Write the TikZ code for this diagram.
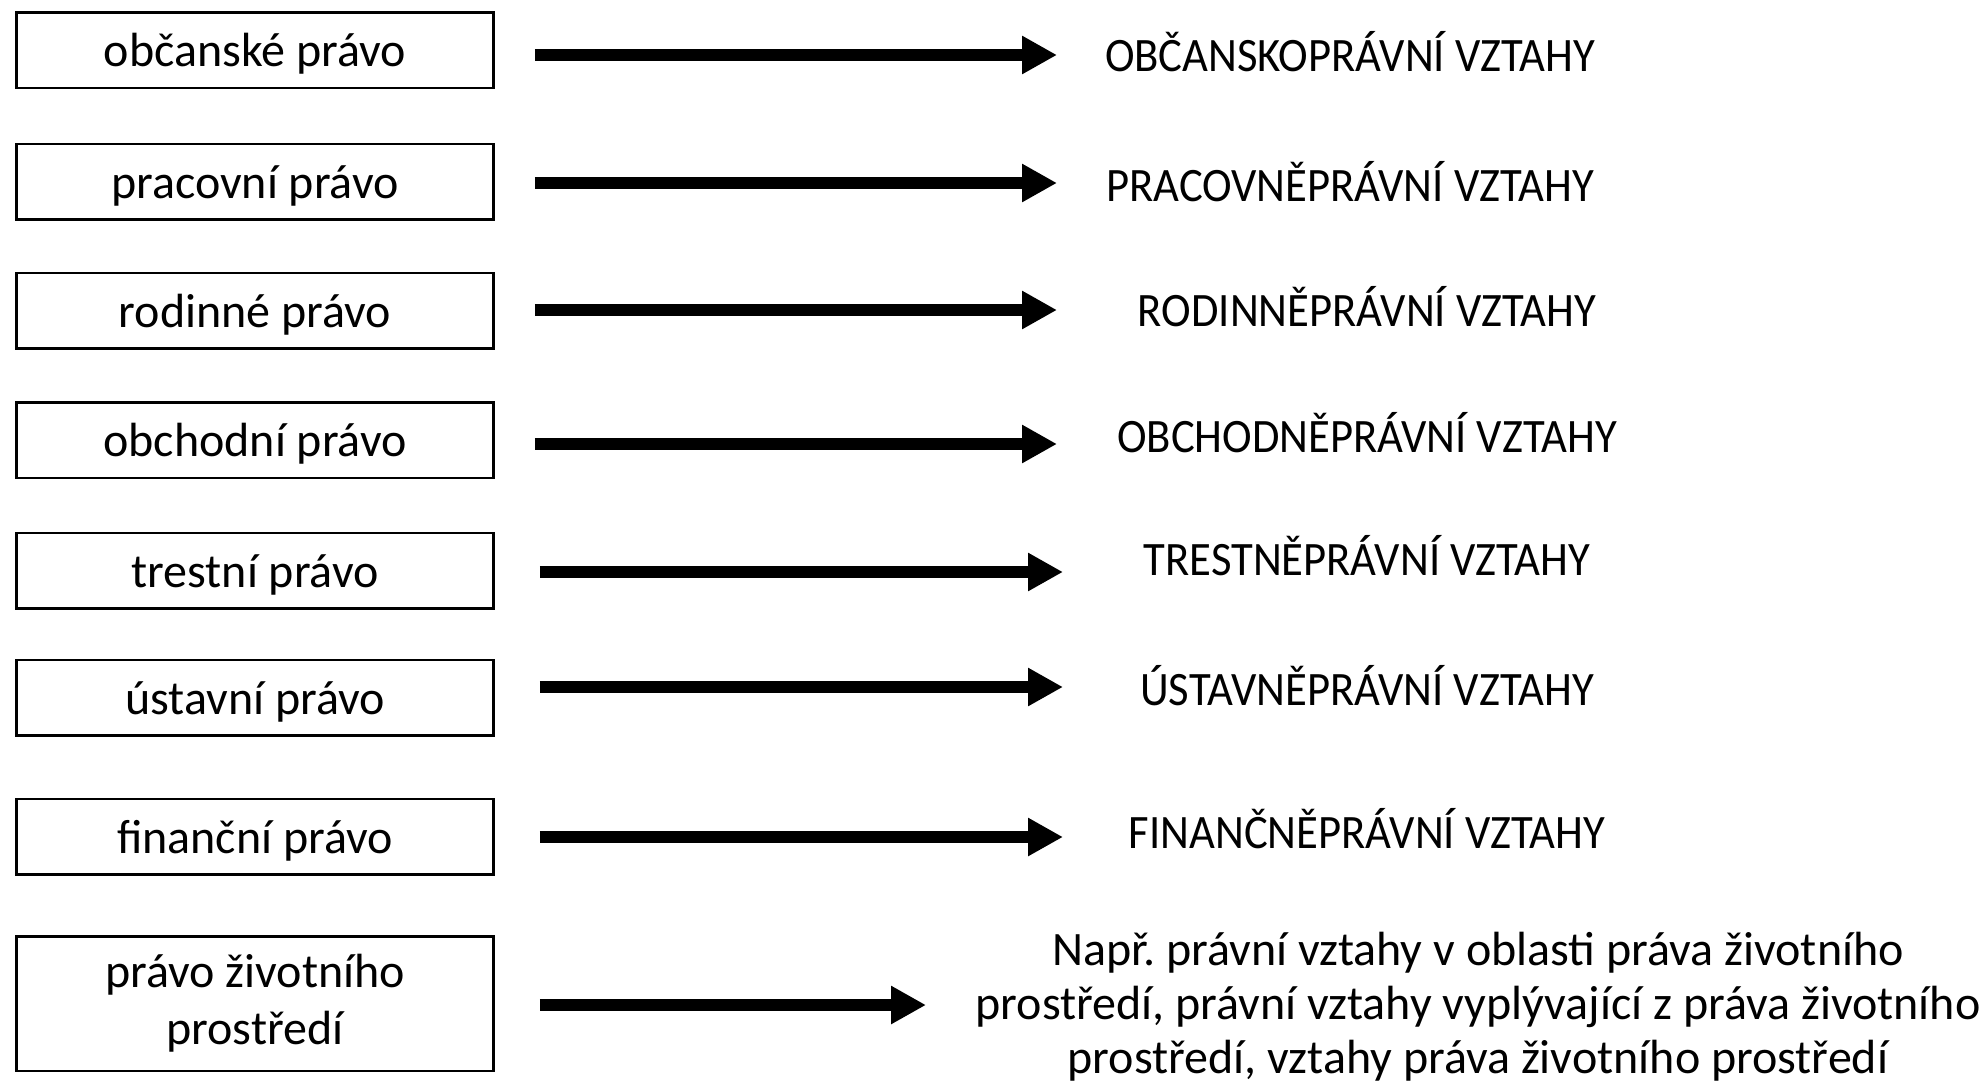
\documentclass[tikz,border=0pt]{standalone}
\usepackage{fontspec}
\setmainfont{Carlito}
\newfontfamily\uzky[FakeStretch=0.93]{Carlito}
\usetikzlibrary{arrows.meta}
\frenchspacing

\begin{document}
\begin{tikzpicture}[x=1pt,y=-1pt,
    font=\fontsize{48}{57}\selectfont,
    pravo/.style={draw,line width=2.5pt,minimum width=477pt,minimum height=75.5pt,inner sep=0pt,align=center,text height=43pt,text depth=10pt},
    vztah/.style={inner sep=0pt,font=\uzky\fontsize{48}{54}\selectfont,text height=31pt,text depth=0pt},
    sipka/.style={line width=12pt,-{Triangle[length=35pt,width=36pt]}}]
  \useasboundingbox (0,0) rectangle (1985,1084);

  % obory prava
  \node[pravo] (l1) at (255,50)     {občanské právo};
  \node[pravo] (l2) at (255,181.5)  {pracovní právo};
  \node[pravo] (l3) at (255,310.5)  {rodinné právo};
  \node[pravo] (l4) at (255,440)    {obchodní právo};
  \node[pravo] (l5) at (255,570.5)  {trestní právo};
  \node[pravo] (l6) at (255,697.5)  {ústavní právo};
  \node[pravo] (l7) at (255,836.5)  {finanční právo};
  \node[pravo,minimum height=134.5pt,text height=,text depth=] (l8) at (255,1003.5) {právo životního\\prostředí};

  % vztahy
  \node[vztah] (r1) at (1350,56)  {OBČANSKOPRÁVNÍ VZTAHY};
  \node[vztah] (r2) at (1350,186) {PRACOVNĚPRÁVNÍ VZTAHY};
  \node[vztah] (r3) at (1367,311) {RODINNĚPRÁVNÍ VZTAHY};
  \node[vztah] (r4) at (1367,437) {OBCHODNĚPRÁVNÍ VZTAHY};
  \node[vztah] (r5) at (1367,560) {TRESTNĚPRÁVNÍ VZTAHY};
  \node[vztah] (r6) at (1367,690) {ÚSTAVNĚPRÁVNÍ VZTAHY};
  \node[vztah] (r7) at (1367,833) {FINANČNĚPRÁVNÍ VZTAHY};
  \node[inner sep=0pt,align=center,font=\fontsize{48}{54}\selectfont] (r8) at (1478,1007)
    {Např. právní vztahy v oblasti práva životního\\prostředí, právní vztahy vyplývající z práva životního\\prostředí, vztahy práva životního prostředí};

  % hroty sipek
  \coordinate (t1) at (1057,55);
  \coordinate (t2) at (1057,183);
  \coordinate (t3) at (1057,310);
  \coordinate (t4) at (1057,444);
  \coordinate (t5) at (1063,572);
  \coordinate (t6) at (1063,687);
  \coordinate (t7) at (1063,837);
  \coordinate (t8) at (926,1005);

  \draw[sipka,shorten <=40pt] (l1.east |- t1) -- (t1);
  \draw[sipka,shorten <=40pt] (l2.east |- t2) -- (t2);
  \draw[sipka,shorten <=40pt] (l3.east |- t3) -- (t3);
  \draw[sipka,shorten <=40pt] (l4.east |- t4) -- (t4);
  \draw[sipka,shorten <=45pt] (l5.east |- t5) -- (t5);
  \draw[sipka,shorten <=45pt] (l6.east |- t6) -- (t6);
  \draw[sipka,shorten <=45pt] (l7.east |- t7) -- (t7);
  \draw[sipka,shorten <=45pt] (l8.east |- t8) -- (t8);
\end{tikzpicture}
\end{document}
